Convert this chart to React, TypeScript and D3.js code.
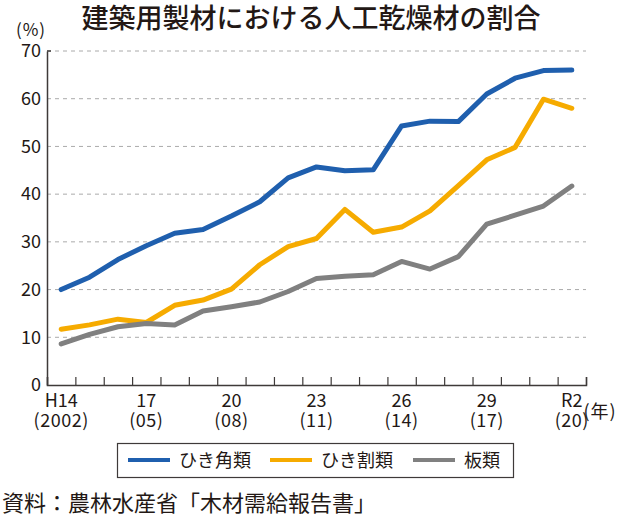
import { useEffect, useRef } from 'react';
import * as d3 from 'd3';

const years = ['H14', '15', '16', '17', '18', '19', '20', '21', '22', '23', '24', '25', '26', '27', '28', '29', '30', 'R1', 'R2'];
const yearLabels = ['H14', '', '', '17', '', '', '20', '', '', '23', '', '', '26', '', '', '29', '', '', 'R2'];
const westernLabels = ['(2002)', '', '', '(05)', '', '', '(08)', '', '', '(11)', '', '', '(14)', '', '', '(17)', '', '', '(20)'];
const kakurui = [20.0, 22.6, 26.3, 29.2, 31.8, 32.6, 35.4, 38.4, 43.4, 45.7, 44.9, 45.1, 54.3, 55.3, 55.2, 61.0, 64.3, 65.9, 66.0];
const warirui = [11.7, 12.6, 13.8, 13.1, 16.7, 17.8, 20.1, 25.2, 29.0, 30.7, 36.8, 32.0, 33.1, 36.5, 41.8, 47.2, 49.8, 59.9, 58.0];
const itarui = [8.6, 10.6, 12.2, 12.9, 12.6, 15.5, 16.4, 17.4, 19.6, 22.3, 22.8, 23.1, 25.9, 24.3, 26.9, 33.7, 35.6, 37.5, 41.7];
const yTicks = [0, 10, 20, 30, 40, 50, 60, 70];
const seriesNames = ['ひき角類', 'ひき割類', '板類'];
const seriesColors = ['#1f5fae', '#f6ab00', '#808080'];

const FONT = '"Noto Sans CJK JP", "Noto Sans", sans-serif';
const TEXT = '#231815';

export default function App() {
  const svgRef = useRef<SVGSVGElement>(null);

  useEffect(() => {
    if (!svgRef.current) return;
    const svg = d3.select(svgRef.current);
    svg.selectAll('*').remove();

    const width = 624;
    const height = 518;
    const left = 47;
    const right = 586;
    const top = 51;
    const bottom = 385;

    svg.attr('viewBox', `0 0 ${width} ${height}`);

    const x = d3.scaleBand<string>().domain(years).range([left, right]).padding(0);
    const xEdge = d3.scaleLinear().domain([0, years.length]).range([left, right]);
    const y = d3.scaleLinear().domain([0, 70]).range([bottom, top]);
    const cx = (i: number) => x(years[i])! + x.bandwidth() / 2;

    // title
    svg.append('text')
      .attr('x', 311)
      .attr('y', 28)
      .attr('text-anchor', 'middle')
      .attr('font-size', 27)
      .attr('font-weight', 500)
      .attr('font-family', FONT)
      .attr('fill', TEXT)
      .text('建築用製材における人工乾燥材の割合');

    svg.append('text')
      .attr('x', 31)
      .attr('y', 36)
      .attr('text-anchor', 'middle')
      .attr('font-size', 17)
      .attr('font-family', FONT)
      .attr('fill', TEXT)
      .attr('letter-spacing', 1)
      .text('(%)');

    // grid
    svg.append('g')
      .selectAll('line')
      .data(yTicks.filter((t) => t > 0))
      .join('line')
      .attr('x1', left)
      .attr('x2', right)
      .attr('y1', (d) => y(d))
      .attr('y2', (d) => y(d))
      .attr('stroke', '#aaaaaa')
      .attr('stroke-width', 1)
      .attr('stroke-dasharray', '4,4');

    // y axis
    const yAxis = svg.append('g')
      .attr('transform', `translate(${left},0)`)
      .call(d3.axisLeft(y).tickValues(yTicks).tickSize(0).tickPadding(6));
    yAxis.select('.domain').attr('stroke', '#3e3a39').attr('stroke-width', 1.5);
    yAxis.selectAll('text')
      .attr('fill', TEXT)
      .attr('font-size', 18)
      .attr('font-family', FONT);
    svg.append('line')
      .attr('x1', left)
      .attr('x2', left + 4)
      .attr('y1', y(70))
      .attr('y2', y(70))
      .attr('stroke', '#3e3a39')
      .attr('stroke-width', 1.5);

    // x axis, ticks at the year boundaries
    const xAxis = svg.append('g')
      .attr('transform', `translate(0,${bottom})`)
      .call(d3.axisBottom(xEdge).tickValues(d3.range(years.length + 1)).tickSize(-8).tickFormat(() => ''));
    xAxis.select('.domain').attr('stroke', '#3e3a39').attr('stroke-width', 1.5);
    xAxis.selectAll('.tick line').attr('stroke', '#3e3a39').attr('stroke-width', 1.2);

    const labelG = svg.append('g')
      .attr('font-family', FONT)
      .attr('font-size', 18)
      .attr('fill', TEXT)
      .attr('text-anchor', 'middle');
    years.forEach((_, i) => {
      if (!yearLabels[i]) return;
      labelG.append('text').attr('x', cx(i)).attr('y', 407).text(yearLabels[i]);
      labelG.append('text').attr('x', cx(i)).attr('y', 427).attr('letter-spacing', 0.5).text(westernLabels[i]);
    });
    svg.append('text')
      .attr('x', 600)
      .attr('y', 418)
      .attr('text-anchor', 'middle')
      .attr('font-size', 18)
      .attr('font-family', FONT)
      .attr('fill', TEXT)
      .attr('letter-spacing', 1)
      .text('(年)');

    // lines
    const line = d3.line<number>()
      .x((_, i) => cx(i))
      .y((d) => y(d));
    [kakurui, warirui, itarui].forEach((s, k) => {
      svg.append('path')
        .datum(s)
        .attr('d', line)
        .attr('fill', 'none')
        .attr('stroke', seriesColors[k])
        .attr('stroke-width', 5)
        .attr('stroke-linejoin', 'round')
        .attr('stroke-linecap', 'round');
    });

    // legend
    svg.append('rect')
      .attr('x', 117.5)
      .attr('y', 443.5)
      .attr('width', 396)
      .attr('height', 34)
      .attr('fill', '#fff')
      .attr('stroke', '#3e3a39')
      .attr('stroke-width', 1.2);
    const legendX = [128, 270, 413];
    seriesNames.forEach((name, k) => {
      svg.append('line')
        .attr('x1', legendX[k])
        .attr('x2', legendX[k] + 42)
        .attr('y1', 460)
        .attr('y2', 460)
        .attr('stroke', seriesColors[k])
        .attr('stroke-width', 4);
      svg.append('text')
        .attr('x', legendX[k] + 51)
        .attr('y', 467)
        .attr('font-size', 18)
        .attr('font-family', FONT)
        .attr('fill', TEXT)
        .text(name);
    });

    svg.append('text')
      .attr('x', 2)
      .attr('y', 511)
      .attr('font-size', 22)
      .attr('font-family', FONT)
      .attr('fill', TEXT)
      .text('資料：農林水産省「木材需給報告書」');
  }, []);

  return (
    <svg
      ref={svgRef}
      width={624}
      height={518}
      style={{ position: 'absolute', left: 0, top: 0, background: '#fff' }}
    />
  );
}
